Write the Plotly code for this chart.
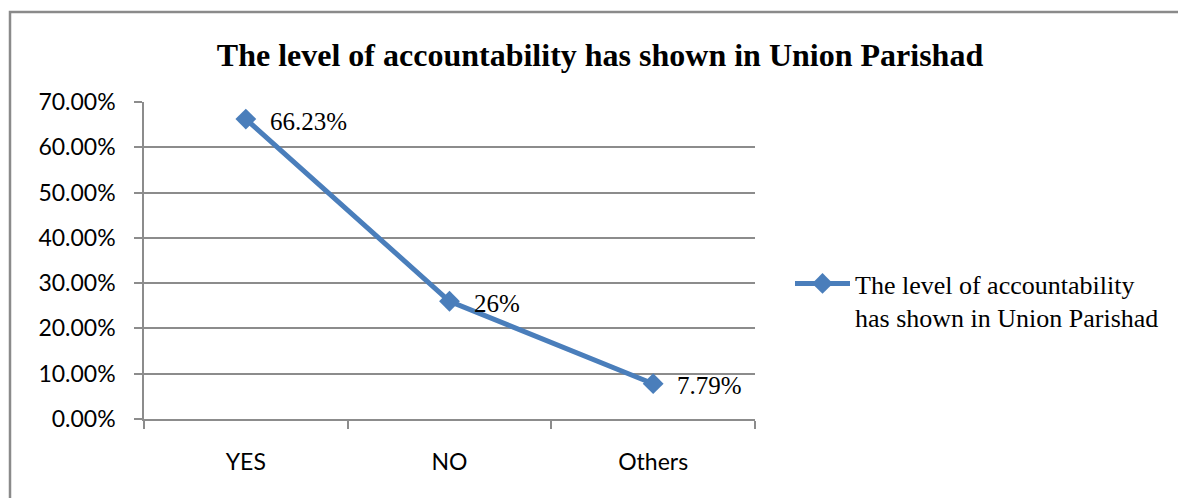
import plotly.graph_objects as go

# Survey responses on accountability in Union Parishad
categories = ["YES", "NO", "Others"]
shares = [0.6623, 0.26, 0.0779]
label_texts = ["66.23%", "26%", "7.79%"]
y_ticks = [0.0, 0.1, 0.2, 0.3, 0.4, 0.5, 0.6, 0.7]

W, H = 1178, 498
L, R, T, B = 144, 423, 102, 79
pw, ph = W - L - R, H - T - B

def px_to_paper(x, y):
    return (x - L) / pw, (H - B - y) / ph

BLUE = "#4A7EBB"
GRID = "#8C8C8C"
SERIF = "Liberation Serif, Times New Roman, serif"
SANS = "Lato, Carlito, Calibri, sans-serif"

fig = go.Figure()
fig.add_trace(go.Scatter(
    x=categories,
    y=shares,
    mode="lines+markers",
    name="The level of accountability<br>has shown in Union Parishad",
    line=dict(color=BLUE, width=5),
    marker=dict(symbol="diamond", size=16, color=BLUE),
    cliponaxis=False,
))

# value labels to the right of each point
for cat, val, txt in zip(categories, shares, label_texts):
    fig.add_annotation(
        x=cat, y=val, text=txt, showarrow=False,
        xanchor="left", yanchor="middle", xshift=22, yshift=-2,
        font=dict(family=SERIF, size=25, color="#000000"),
    )

# outer chart frame (left and top edges visible)
x0, y0 = px_to_paper(10, 12)
x1, y1 = px_to_paper(1185, 505)
fig.add_shape(type="rect", xref="paper", yref="paper",
              x0=x0, y0=y1, x1=x1, y1=y0,
              line=dict(color="#8A8A8A", width=2.5), fillcolor="rgba(0,0,0,0)")

fig.update_layout(
    width=W, height=H,
    margin=dict(l=L, r=R, t=T, b=B),
    paper_bgcolor="white", plot_bgcolor="white",
    title=dict(
        text="<b>The level of accountability has shown in Union Parishad</b>",
        font=dict(family=SERIF, size=32, color="#000000"),
        x=600 / W, xanchor="center",
        y=1 - 55 / H, yanchor="middle", yref="container",
    ),
    showlegend=True,
    legend=dict(
        x=px_to_paper(790, 0)[0], xanchor="left",
        y=px_to_paper(0, 260)[1], yanchor="top",
        font=dict(family=SERIF, size=26, color="#000000"),
        itemwidth=55, valign="top",
        bgcolor="rgba(0,0,0,0)",
    ),
    xaxis=dict(
        type="category",
        tickson="boundaries",
        ticks="outside", ticklen=8, tickcolor=GRID, tickwidth=1.5,
        showline=True, linecolor=GRID, linewidth=1.5,
        showgrid=False, zeroline=False,
        tickfont=dict(family=SANS, size=23, color="#000000"),
        ticklabelstandoff=22,
        range=[-0.5, 2.5],
    ),
    yaxis=dict(
        range=[0, 0.7],
        tickvals=y_ticks,
        tickformat=".2%",
        ticks="outside", ticklen=8, tickcolor=GRID, tickwidth=1.5,
        showline=True, linecolor=GRID, linewidth=1.5,
        showgrid=True, gridcolor=GRID, gridwidth=1.5,
        zeroline=False,
        tickfont=dict(family=SANS, size=23, color="#000000"),
        ticklabelstandoff=14,
    ),
)

fig.write_html("out.html")
